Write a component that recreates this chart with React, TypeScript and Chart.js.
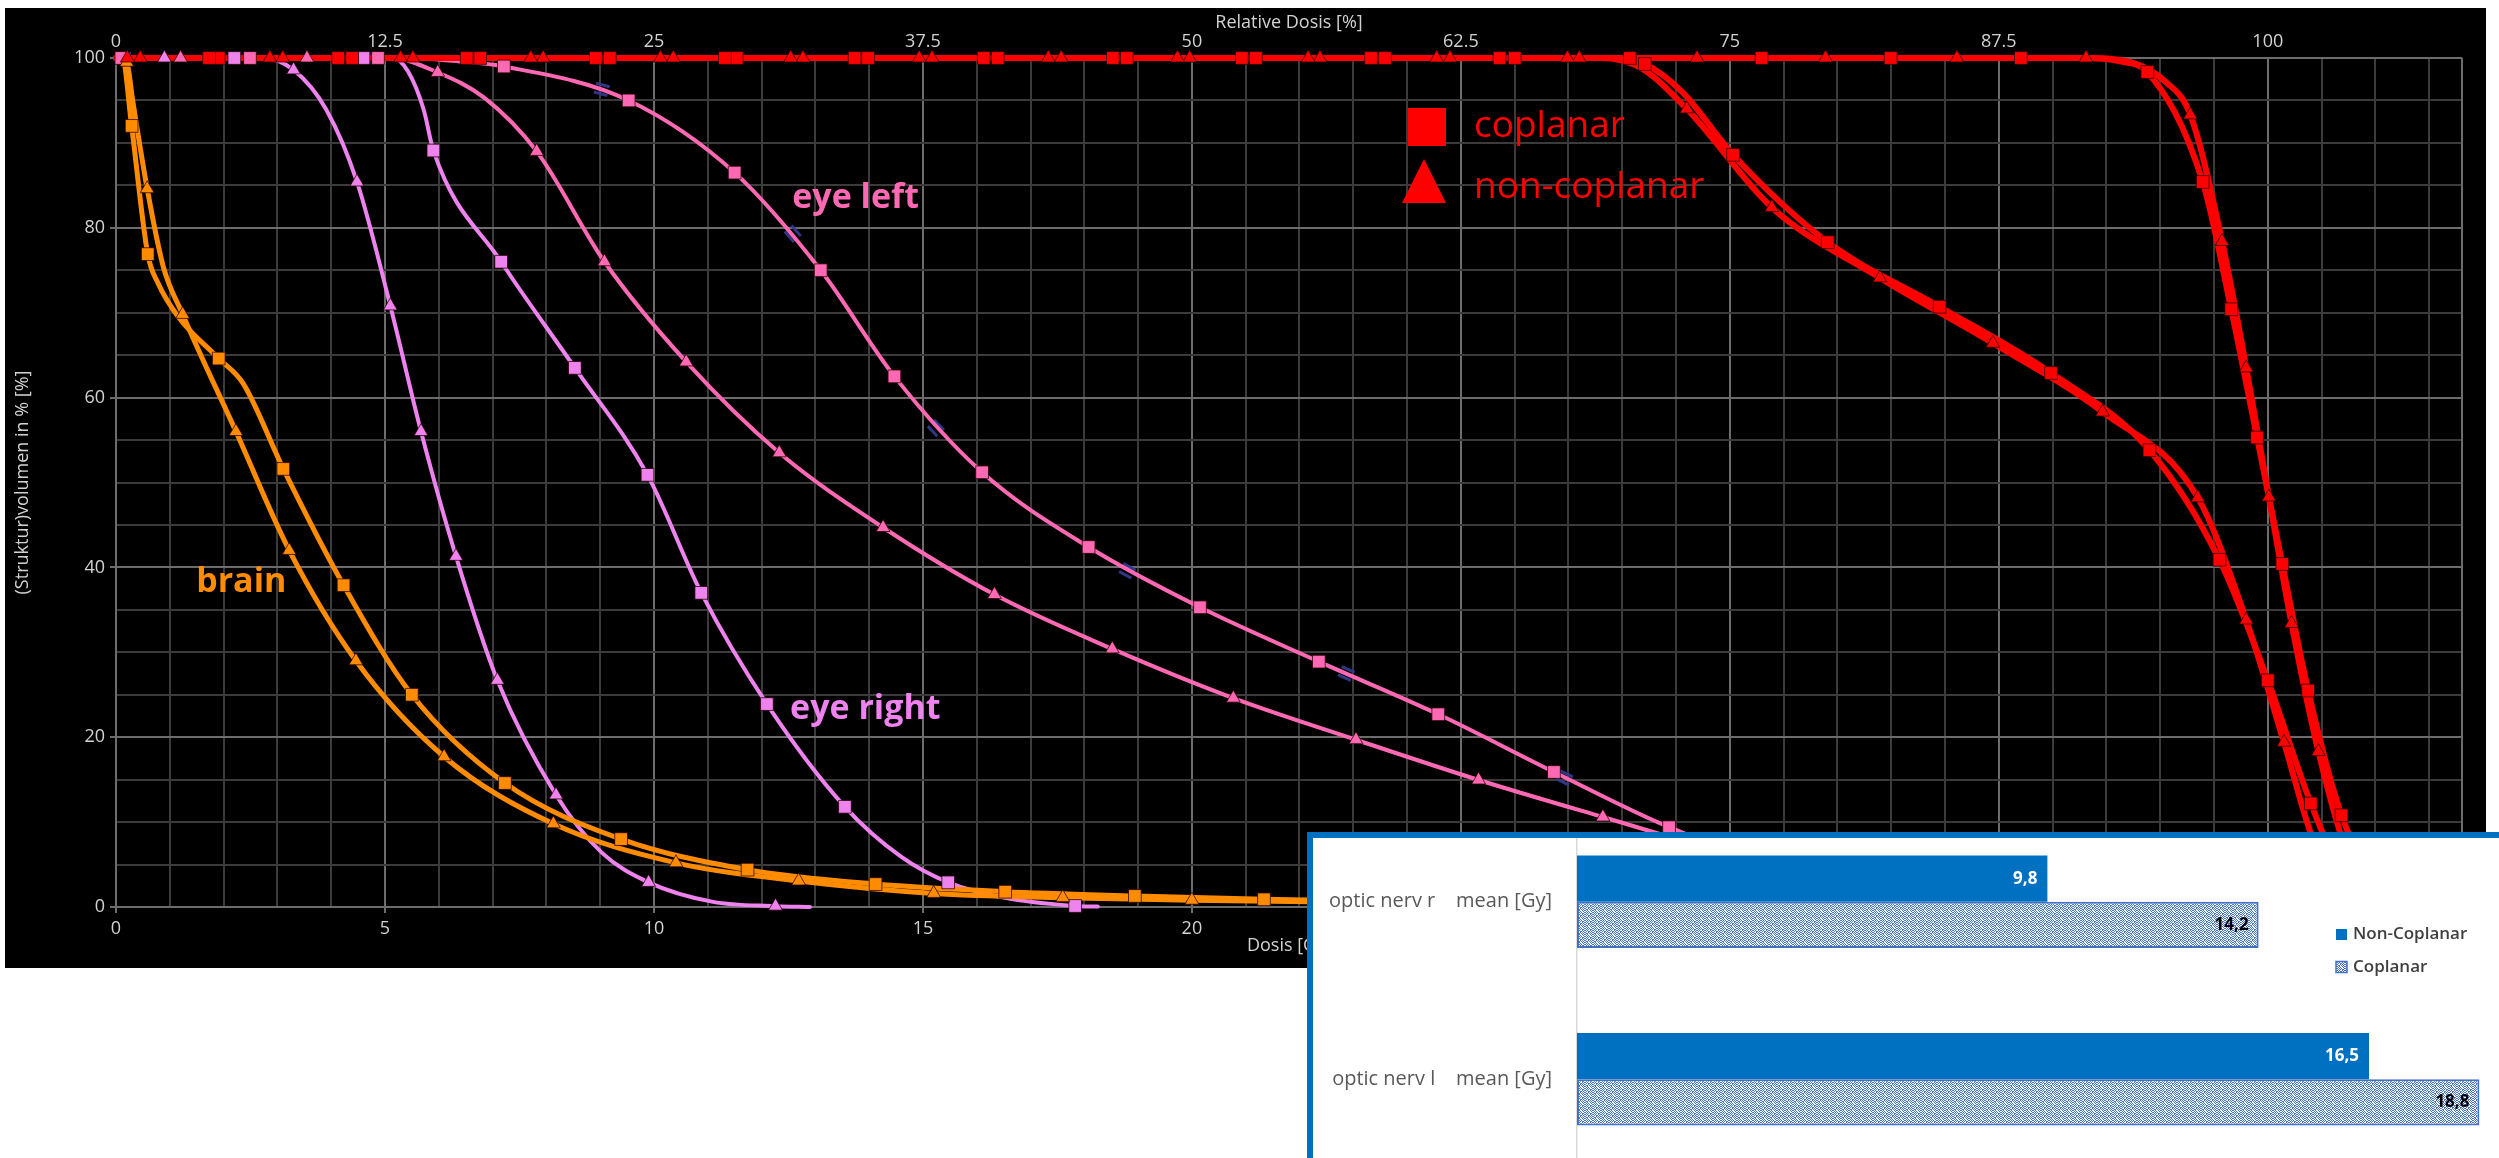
import React, { useEffect, useRef } from 'react';
import { Chart, registerables } from 'chart.js';

Chart.register(...registerables);

type P = [number, number];

const FONT = "'Open Sans', 'Noto Sans', 'DejaVu Sans', sans-serif";
Chart.defaults.font.family = FONT;

// ---------------- DVH data: dose [Gy], volume [%] ----------------
// PTV (coplanar squares / non-coplanar triangles)
const ptvCoMarkers: P[] = [[1.73,100],[4.13,100],[6.52,100],[8.92,100],[11.32,100],[13.73,100],[16.13,100],[18.53,100],[20.93,100],[23.33,100],[25.72,100],[28.14,100],[30.59,100],[32.99,100],[35.41,100],[37.76,98.35],[38.79,85.4],[39.32,70.4],[39.8,55.3],[40.27,40.4],[40.75,25.5],[41.37,10.8]];
const ptvCoPath: P[] = [[0,100],[36.6,100],[37.25,99.6],[41.9,4],[42.5,1],[43.3,0]];
const ptvNcMarkers: P[] = [[0.21,100],[2.86,100],[5.29,100],[7.71,100],[10.12,100],[12.54,100],[14.93,100],[17.33,100],[19.73,100],[22.16,100],[24.55,100],[26.98,100],[29.39,100],[31.78,100],[34.22,100],[36.62,100],[38.56,93.3],[39.15,78.4],[39.6,63.5],[40.02,48.3],[40.44,33.4],[40.94,18.3]];
const ptvNcPath: P[] = [[0,100],[37.45,99.5],[38.1,97.2],[41.5,6],[42.1,1.5],[43,0]];
// second target structure
const ptv2CoMarkers: P[] = [[1.91,100],[4.39,100],[6.77,100],[9.18,100],[11.54,100],[13.98,100],[16.39,100],[18.79,100],[21.19,100],[23.59,100],[26.0,100],[28.42,99.3],[30.06,88.6],[31.82,78.3],[33.9,70.7],[35.97,62.9],[37.8,53.8],[39.1,40.9],[40.0,26.7],[40.8,12.2]];
const ptv2CoPath: P[] = [[0,100],[27.8,100],[29.13,95.9],[41.3,5],[42,1],[42.8,0]];
const ptv2NcMarkers: P[] = [[0.45,100],[3.1,100],[5.52,100],[7.94,100],[10.36,100],[12.77,100],[15.17,100],[17.57,100],[19.96,100],[22.38,100],[24.8,100],[27.2,100],[29.2,94.0],[30.78,82.4],[32.79,74.1],[34.89,66.4],[36.93,58.3],[38.7,48.2],[39.6,33.8],[40.3,19.4]];
const ptv2NcPath: P[] = [[0,100],[27.6,100],[28.35,98.8],[40.9,7],[41.6,2],[42.4,0]];
// brain
const brainCoMarkers: P[] = [[0.29,92.0],[0.59,76.9],[1.91,64.6],[3.11,51.6],[4.23,37.9],[5.5,25.0],[7.23,14.6],[9.39,8.0],[11.74,4.4],[14.12,2.7],[16.53,1.8],[18.94,1.3],[21.34,0.9]];
const brainCoPath: P[] = [[0,100],[0.12,100],[0.78,73.5],[1.16,69.5],[2.36,61.7],[25,0.5],[30,0.2],[36,0]];
const brainNcMarkers: P[] = [[0.2,99.5],[0.58,84.6],[1.24,69.8],[2.23,56.0],[3.22,42.0],[4.46,29.0],[6.1,17.7],[8.13,9.8],[10.41,5.2],[12.69,3.06],[15.2,1.6],[17.6,1.1],[20.0,0.8]];
const brainNcPath: P[] = [[0,100],[0.31,95],[0.88,75.4],[22.4,0.6],[27,0.3],[33,0]];
// eye right
const eyeRCoMarkers: P[] = [[2.2,100],[4.6,100],[5.9,89.1],[7.16,76.0],[8.53,63.5],[9.88,50.9],[10.88,37.0],[12.1,23.9],[13.55,11.8],[15.47,2.9],[17.83,0.12]];
const eyeRCoPath: P[] = [[0,100],[5.15,100],[5.43,98.4],[5.72,93.9],[14.6,5.9],[16.5,1.1],[18.25,0.05]];
const eyeRNcMarkers: P[] = [[0.9,100],[3.3,98.6],[4.48,85.4],[5.1,70.8],[5.67,56.0],[6.32,41.3],[7.09,26.7],[8.18,13.2],[9.9,2.9],[12.26,0.1]];
const eyeRNcPath: P[] = [[0,100],[2.7,100],[3.91,93.9],[9.03,6.4],[11.1,0.6],[12.9,0]];
// eye left
const eyeLCoMarkers: P[] = [[0.1,100],[2.49,100],[4.87,100],[7.21,99.0],[9.53,95.0],[11.5,86.5],[13.1,75.0],[14.47,62.5],[16.1,51.2],[18.08,42.4],[20.15,35.3],[22.36,28.9],[24.58,22.7],[26.73,15.9],[28.87,9.4]];
const eyeLCoPath: P[] = [[0,100],[5.4,100],[6.38,99.6],[31.2,4.2],[33.5,1.5],[36,0.2]];
const eyeLNcMarkers: P[] = [[1.2,100],[3.55,100],[5.98,98.3],[7.82,89.0],[9.08,76.0],[10.6,64.2],[12.33,53.5],[14.26,44.7],[16.33,36.8],[18.52,30.4],[20.77,24.6],[23.05,19.7],[25.33,14.96],[27.64,10.6]];
const eyeLNcPath: P[] = [[0,100],[5.1,100],[6.85,95.3],[30,6.3],[32.5,3],[35,0.8],[38,0]];
// faint hollow markers lying on the eye-left coplanar curve
const hollowMarks: P[] = [[0.15,100],[4.6,100],[9.03,96.3],[12.58,79.3],[15.24,56.4],[18.8,39.6],[22.87,27.5],[26.93,15.2]];
const hollowMarkRotation = [0, 0, 15, 48, 47, 28, 24, 26];

// axis ticks
const X_MAX = 43.61;
const doseTickLabels = [0, 5, 10, 15, 20, 25, 30, 35, 40];
const relDoseTickLabels = [0, 12.5, 25, 37.5, 50, 62.5, 75, 87.5, 100];
const volumeTickLabels = [0, 20, 40, 60, 80, 100];

// in-chart text labels (left, baseline in data coordinates)
const structureLabels = [
  { text: 'brain', x: 1.49, y: 37.1, color: '#FF8C00' },
  { text: 'eye left', x: 12.57, y: 82.3, color: '#FF69B4' },
  { text: 'eye right', x: 12.53, y: 22.2, color: '#EE82EE' },
];
const planLabels = ['coplanar', 'non-coplanar'];

// ---------------- inset bar chart data ----------------
const nerveLabels = ['optic nerv r    mean [Gy]', 'optic nerv l    mean [Gy]'];
const nonCoplanarMean = [9.8, 16.5];
const coplanarMean = [14.2, 18.8];
const barSeriesLabels = ['Non-Coplanar', 'Coplanar'];

// ---------------- styles ----------------
const RED = '#FF0000';
const ORANGE = '#FF8C00';
const VIOLET = '#EE82EE';
const PINK = '#FF69B4';
const GRID_MINOR = '#3b3b3b';
const GRID_MAJOR = '#6c6c6c';
const TICK = '#d2d2d2';

const toXY = (a: P[]) => a.map(([x, y]) => ({ x, y }));
const merge = (a: P[], b: P[]) =>
  [...a, ...b].sort((p, q) => p[0] - q[0] || q[1] - p[1]).map(([x, y]) => ({ x, y }));

const curves = [
  { m: ptvCoMarkers, p: ptvCoPath, color: RED, style: 'rect', lw: 6, order: 1 },
  { m: ptvNcMarkers, p: ptvNcPath, color: RED, style: 'triangle', lw: 6, order: 1 },
  { m: ptv2CoMarkers, p: ptv2CoPath, color: RED, style: 'rect', lw: 6, order: 1 },
  { m: ptv2NcMarkers, p: ptv2NcPath, color: RED, style: 'triangle', lw: 6, order: 1 },
  { m: brainCoMarkers, p: brainCoPath, color: ORANGE, style: 'rect', lw: 5, order: 2 },
  { m: brainNcMarkers, p: brainNcPath, color: ORANGE, style: 'triangle', lw: 5, order: 2 },
  { m: eyeLCoMarkers, p: eyeLCoPath, color: PINK, style: 'rect', lw: 4, order: 3 },
  { m: eyeLNcMarkers, p: eyeLNcPath, color: PINK, style: 'triangle', lw: 4, order: 3 },
  { m: eyeRCoMarkers, p: eyeRCoPath, color: VIOLET, style: 'rect', lw: 4, order: 4 },
  { m: eyeRNcMarkers, p: eyeRNcPath, color: VIOLET, style: 'triangle', lw: 4, order: 4 },
];

const mainOverlay = {
  id: 'mainOverlay',
  beforeDatasetsDraw(chart: any) {
    const { ctx, chartArea: a } = chart;
    ctx.save();
    ctx.strokeStyle = GRID_MAJOR;
    ctx.lineWidth = 2;
    ctx.beginPath();
    ctx.moveTo(a.right, a.top);
    ctx.lineTo(a.right, a.bottom);
    ctx.stroke();
    ctx.restore();
  },
  afterDraw(chart: any) {
    const { ctx, chartArea: a, scales } = chart;
    ctx.save();
    ctx.textAlign = 'left';
    ctx.textBaseline = 'alphabetic';
    ctx.font = `700 34px ${FONT}`;
    for (const l of structureLabels) {
      ctx.fillStyle = l.color;
      ctx.fillText(l.text, scales.x.getPixelForValue(l.x), scales.y.getPixelForValue(l.y));
    }
    // plan legend
    ctx.fillStyle = RED;
    ctx.fillRect(a.left + 1292, a.top + 50, 38, 38);
    ctx.beginPath();
    ctx.moveTo(a.left + 1308, a.top + 101);
    ctx.lineTo(a.left + 1330, a.top + 145);
    ctx.lineTo(a.left + 1286, a.top + 145);
    ctx.closePath();
    ctx.fill();
    ctx.font = `400 37px ${FONT}`;
    ctx.fillText(planLabels[0], a.left + 1358, a.top + 79);
    ctx.fillText(planLabels[1], a.left + 1358, a.top + 140);
    ctx.restore();
  },
};

function makePattern(): CanvasPattern | string {
  const c = document.createElement('canvas');
  c.width = 8;
  c.height = 8;
  const g = c.getContext('2d');
  if (!g) return '#a9bde6';
  g.fillStyle = '#ffffff';
  g.fillRect(0, 0, 8, 8);
  g.fillStyle = '#4472C4';
  const rows = [
    '10101001',
    '01010110',
    '10100101',
    '01011010',
    '10010101',
    '01101010',
    '10100101',
    '01010010',
  ];
  rows.forEach((r, y) => r.split('').forEach((ch, x) => { if (ch === '1') g.fillRect(x, y, 1, 1); }));
  return g.createPattern(c, 'repeat') || '#a9bde6';
}

function makeHollowMark(): HTMLCanvasElement {
  const c = document.createElement('canvas');
  c.width = 18;
  c.height = 14;
  const g = c.getContext('2d');
  if (g) {
    g.strokeStyle = 'rgba(50,58,140,0.95)';
    g.lineWidth = 3;
    g.beginPath();
    g.moveTo(2, 2.5);
    g.lineTo(16, 2.5);
    g.moveTo(2, 11.5);
    g.lineTo(16, 11.5);
    g.stroke();
  }
  return c;
}

const insetOverlay = {
  id: 'insetOverlay',
  afterDatasetsDraw(chart: any) {
    const { ctx } = chart;
    ctx.save();
    ctx.font = `700 17px ${FONT}`;
    ctx.textAlign = 'right';
    ctx.textBaseline = 'middle';
    chart.data.datasets.forEach((ds: any, i: number) => {
      const meta = chart.getDatasetMeta(i);
      meta.data.forEach((el: any, j: number) => {
        const { x, y } = el.getProps(['x', 'y'], true);
        ctx.fillStyle = i === 0 ? '#ffffff' : '#000000';
        ctx.fillText(String(ds.data[j]).replace('.', ','), x - 10, y);
      });
    });
    // legend
    const lx = 1023;
    const ly = [134.5, 167];
    ctx.textAlign = 'left';
    ctx.font = `600 17px ${FONT}`;
    chart.data.datasets.forEach((ds: any, i: number) => {
      const cy = ly[i];
      ctx.fillStyle = ds.backgroundColor;
      ctx.fillRect(lx, cy - 5.5, 11, 11);
      if (ds.borderWidth) {
        ctx.strokeStyle = ds.borderColor;
        ctx.lineWidth = 1.5;
        ctx.strokeRect(lx, cy - 5.5, 11, 11);
      }
      ctx.fillStyle = '#404040';
      ctx.fillText(ds.label, lx + 17, cy);
    });
    ctx.restore();
  },
};

export default function App() {
  const mainRef = useRef<HTMLCanvasElement>(null);
  const insetRef = useRef<HTMLCanvasElement>(null);

  useEffect(() => {
    if (!mainRef.current || !insetRef.current) return;

    const lineSets = curves.map((c) => ({
      data: merge(c.m, c.p),
      showLine: true,
      borderColor: c.color,
      backgroundColor: c.color,
      borderWidth: c.lw,
      pointRadius: 0,
      pointHitRadius: 0,
      cubicInterpolationMode: 'monotone',
      borderCapStyle: 'round',
      borderJoinStyle: 'round',
      clip: false,
      order: c.order,
    }));
    const markerSets = curves.map((c) => ({
      data: toXY(c.m),
      showLine: false,
      pointStyle: c.style,
      pointRadius: c.style === 'rect' ? 9 : 8,
      pointBackgroundColor: c.color,
      pointBorderColor: 'rgba(40,0,0,0.75)',
      pointBorderWidth: 1,
      clip: false,
      order: 0,
    }));
    const hollowSet = {
      data: toXY(hollowMarks),
      showLine: false,
      pointStyle: makeHollowMark(),
      pointRadius: 9,
      pointRotation: hollowMarkRotation,
      clip: false,
      order: 3.5,
    };

    const gridColor = (list: number[]) => (c: any) =>
      c.tick && list.includes(c.tick.value) ? GRID_MAJOR : GRID_MINOR;
    const tickColor = (list: number[]) => (c: any) =>
      c.tick && list.includes(c.tick.value) ? GRID_MAJOR : 'rgba(0,0,0,0)';

    const main = new Chart(mainRef.current, {
      type: 'scatter',
      data: { datasets: [...markerSets, hollowSet, ...lineSets] as any },
      options: {
        responsive: false,
        animation: false,
        events: [],
        layout: { padding: { left: 0, right: 24, top: 0, bottom: 0 } },
        plugins: { legend: { display: false }, tooltip: { enabled: false } },
        scales: {
          x: {
            type: 'linear',
            position: 'bottom',
            min: 0,
            max: X_MAX,
            ticks: {
              stepSize: 1,
              autoSkip: false,
              includeBounds: false,
              maxRotation: 0,
              color: TICK,
              font: { size: 18 },
              padding: 5,
              callback: (v: any) => (doseTickLabels.includes(v) ? String(v) : ''),
            },
            grid: {
              color: gridColor(doseTickLabels),
              lineWidth: 2,
              tickLength: 6,
              tickColor: tickColor(doseTickLabels),
              tickWidth: 2,
            },
            border: { color: GRID_MAJOR, width: 2 },
            title: { display: true, text: 'Dosis [Gy]', color: TICK, font: { size: 18 }, padding: { top: 0, bottom: 11 } },
            afterFit: (s: any) => { s.height = 61; },
          },
          x2: {
            type: 'linear',
            position: 'top',
            min: 0,
            max: X_MAX * 2.5,
            ticks: {
              stepSize: 12.5,
              autoSkip: false,
              includeBounds: false,
              maxRotation: 0,
              color: TICK,
              font: { size: 18 },
              padding: 5.5,
              callback: (v: any) => (relDoseTickLabels.includes(v) ? String(v) : ''),
            },
            grid: { display: false, drawTicks: false },
            border: { display: false },
            title: { display: true, text: 'Relative Dosis [%]', color: TICK, font: { size: 18 }, padding: { top: 4, bottom: 0 } },
            afterFit: (s: any) => { s.height = 50; },
          },
          y: {
            type: 'linear',
            position: 'left',
            min: 0,
            max: 100,
            ticks: {
              stepSize: 5,
              autoSkip: false,
              color: TICK,
              font: { size: 18 },
              padding: 5,
              callback: (v: any) => (volumeTickLabels.includes(v) ? String(v) : ''),
            },
            grid: {
              color: gridColor(volumeTickLabels),
              lineWidth: 2,
              tickLength: 6,
              tickColor: tickColor(volumeTickLabels),
              tickWidth: 2,
            },
            border: { color: GRID_MAJOR, width: 2 },
            title: { display: true, text: '(Struktur)volumen in % [%]', color: TICK, font: { size: 18 }, padding: { top: 6.7, bottom: 0 } },
            afterFit: (s: any) => { s.width = 111; },
          },
        } as any,
      },
      plugins: [mainOverlay],
    });

    const pattern = makePattern();
    const inset = new Chart(insetRef.current, {
      type: 'bar',
      data: {
        labels: nerveLabels,
        datasets: [
          {
            label: barSeriesLabels[0],
            data: nonCoplanarMean,
            backgroundColor: '#0070C0',
            borderWidth: 0,
            categoryPercentage: 0.52,
            barPercentage: 1,
          },
          {
            label: barSeriesLabels[1],
            data: coplanarMean,
            backgroundColor: pattern as any,
            borderColor: '#4472C4',
            borderWidth: 2,
            borderSkipped: false,
            categoryPercentage: 0.52,
            barPercentage: 1,
          },
        ],
      },
      options: {
        indexAxis: 'y',
        responsive: false,
        animation: false,
        events: [],
        layout: { autoPadding: false, padding: { top: 13, bottom: 12, left: 0, right: 0 } },
        plugins: { legend: { display: false }, tooltip: { enabled: false } },
        scales: {
          x: { display: false, min: 0, max: 20 },
          y: {
            grid: { display: false, drawTicks: false },
            border: { display: true, color: '#d9d9d9', width: 1.5 },
            ticks: { color: '#595959', font: { size: 20 }, padding: 25 },
            afterFit: (s: any) => {
              s.width = 264;
              s.paddingTop = 0;
              s.paddingBottom = 0;
            },
          },
        } as any,
      },
      plugins: [insetOverlay],
    });

    return () => {
      main.destroy();
      inset.destroy();
    };
  }, []);

  return (
    <div style={{ position: 'fixed', left: 0, top: 0, width: 2499, height: 1158, background: '#ffffff', overflow: 'hidden' }}>
      <div style={{ position: 'absolute', left: 5, top: 8, width: 2481, height: 960, background: '#000000' }}>
        <canvas ref={mainRef} width={2481} height={960} style={{ display: 'block' }} />
      </div>
      <div
        style={{
          position: 'absolute',
          left: 1307,
          top: 832,
          width: 1192,
          height: 326,
          boxSizing: 'border-box',
          borderLeft: '6px solid #0070C0',
          borderTop: '6px solid #0070C0',
          background: '#ffffff',
          overflow: 'hidden',
        }}
      >
        <canvas ref={insetRef} width={1224} height={380} style={{ position: 'absolute', left: 0, top: -38, display: 'block' }} />
      </div>
    </div>
  );
}
